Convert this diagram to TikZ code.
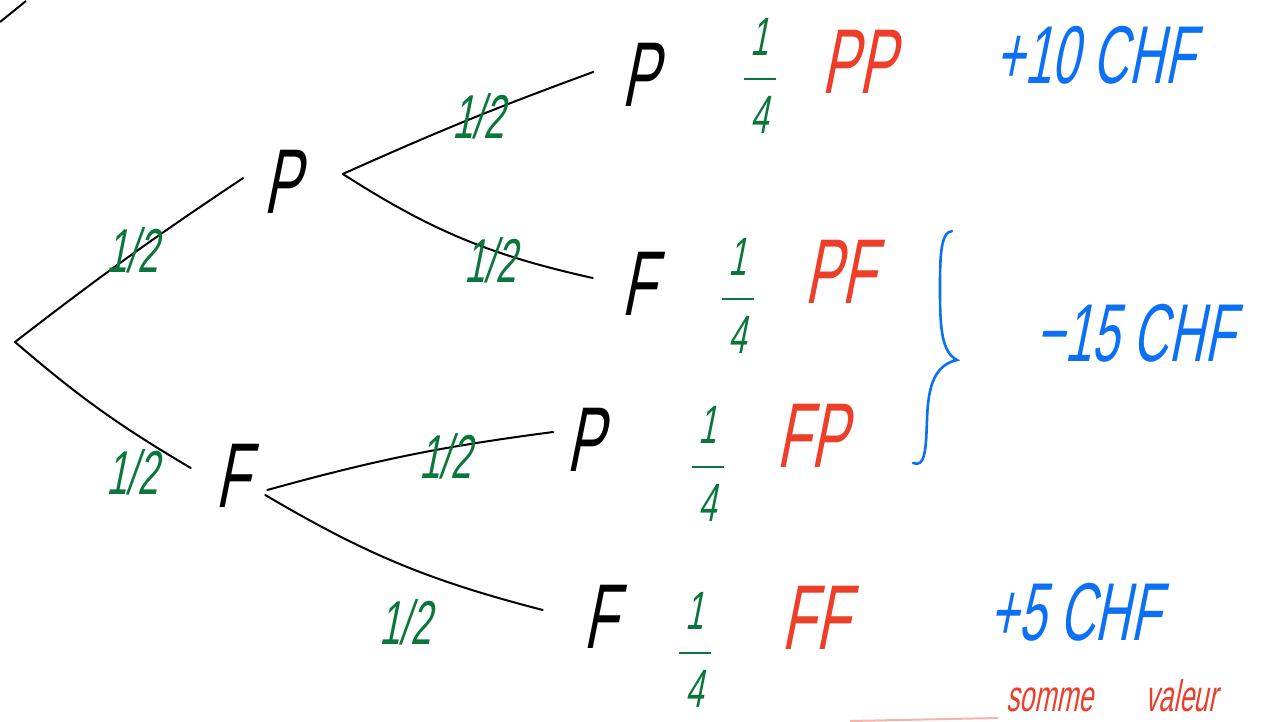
\documentclass[tikz,border=0pt]{standalone}
\usepackage{fontspec}
\newfontfamily\hand{Liberation Sans}[FakeStretch=0.6,FakeSlant=0.2]
\definecolor{hgreen}{RGB}{10,118,60}
\definecolor{hred}{RGB}{236,62,40}
\definecolor{hblue}{RGB}{12,112,245}
\begin{document}
\begin{tikzpicture}[x=0.5pt,y=-0.5pt,
  letter/.style={font=\hand\fontsize{46}{46}\selectfont, inner sep=0pt},
  half/.style={text=hgreen, font=\hand\fontsize{31}{31}\selectfont, inner sep=0pt},
  quart/.style={text=hgreen, font=\hand\fontsize{27}{22}\selectfont, align=center, inner sep=0pt},
  outc/.style={text=hred, font=\hand\fontsize{46}{46}\selectfont, inner sep=0pt},
  gain/.style={text=hblue, font=\hand\fontsize{41}{41}\selectfont, inner sep=0pt},
  note/.style={text=hred, font=\hand\fontsize{22}{22}\selectfont, inner sep=0pt},
  branch/.style={line width=1pt, line cap=round}]
\useasboundingbox (0,0) rectangle (1271,722);
% tree nodes
\coordinate (r) at (15,342);
\node[letter] (P1) at (282,182) {P};
\node[letter] (F1) at (232,476) {F};
\node[letter] (PP) at (640,75) {P};
\node[letter] (PF) at (638,284) {F};
\node[letter] (FP) at (585,440) {P};
\node[letter] (FF) at (600,617) {F};
% branches
\draw[branch] (r) to[bend left=2] ([xshift=-10pt,yshift=2pt]P1.west);
\draw[branch] (r) to[bend right=5] ([xshift=-12pt,yshift=4pt]F1.west);
\draw[branch] ([xshift=21pt,yshift=4pt]P1.east) to[bend left=2] ([xshift=-14pt,yshift=1.5pt]PP.west);
\draw[branch] ([xshift=21pt,yshift=4pt]P1.east) to[bend right=10] ([xshift=-14pt,yshift=3pt]PF.west);
\draw[branch] ([xshift=9pt,yshift=-7pt]F1.east) to[bend left=4] ([xshift=-6.5pt,yshift=4pt]FP.west);
\draw[branch] ([xshift=8pt,yshift=-9.5pt]F1.east) to[bend right=8] ([xshift=-20pt,yshift=3.5pt]FF.west);
% probabilities of branches
\node[half] (h1) at (132,250) {1/2};
\node[half] (h2) at (132,472) {1/2};
\node[half] (h3) at (478,116) {1/2};
\node[half] (h4) at (490,260) {1/2};
\node[half] (h5) at (445,456) {1/2};
\node[half] (h6) at (405,622) {1/2};
% leaf probabilities
\node[quart] (q1) at (760,76) {1\\\rule[10pt]{16pt}{0.9pt}\\[-5pt]4};
\node[quart] (q2) at (738,296) {1\\\rule[10pt]{16pt}{0.9pt}\\[-5pt]4};
\node[quart] (q3) at (708,464) {1\\\rule[10pt]{16pt}{0.9pt}\\[-5pt]4};
\node[quart] (q4) at (695,650) {1\\\rule[10pt]{16pt}{0.9pt}\\[-5pt]4};
% outcomes
\node[outc] (o1) at (858,62) {PP};
\node[outc] (o2) at (840,272) {PF};
\node[outc] (o3) at (812,436) {FP};
\node[outc] (o4) at (815,618) {FF};
% gains
\node[gain] (g1) at (1095,55) {+10 CHF};
\node[gain] (g2) at (1135,333) {−15 CHF};
\node[gain] (g3) at (1075,612) {+5 CHF};
\draw[hblue, line width=1.3pt, line cap=round]
  (952,231) .. controls (940,232) and (940,260) .. (940,290)
  .. controls (940,330) and (942,352) .. (957,360)
  .. controls (935,365) and (928,385) .. (927,420)
  .. controls (926,450) and (925,468) .. (913,463);
% bottom note
\node[note] (n1) at (1112,696) {somme\hspace{26pt}valeur};
\coordinate (u1) at (850,721);
\coordinate (u2) at (998,718);
\draw[hred!40, line width=1pt] (u1) -- (u2);
% stray stroke top left
\coordinate (s1) at (0,22);
\coordinate (s2) at (26,1);
\draw[line width=1pt] (s1) -- (s2);
\end{tikzpicture}
\end{document}
